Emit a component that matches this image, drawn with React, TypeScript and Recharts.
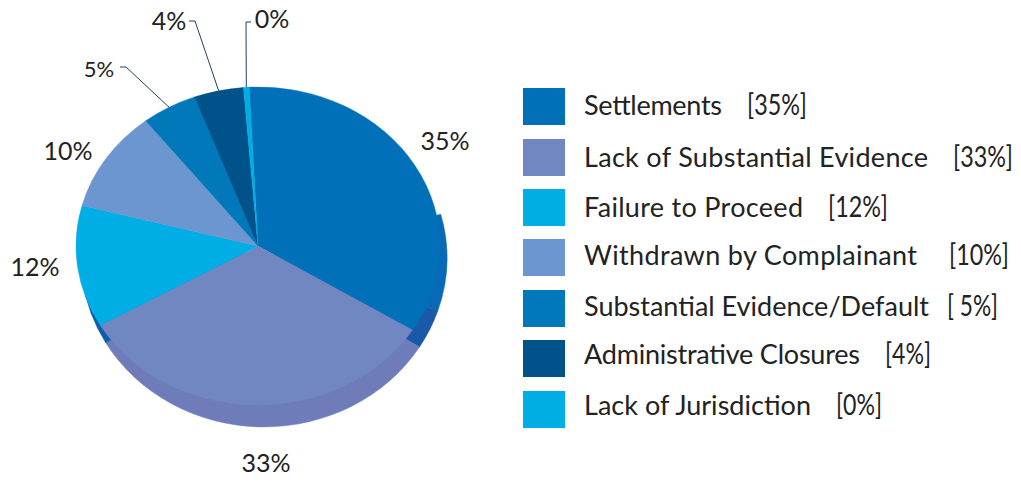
import { Legend, Pie, PieChart, Sector } from 'recharts'

const WIDTH = 1021
const HEIGHT = 487

const closureTypes = [
  'Settlements',
  'Lack of Substantial Evidence',
  'Failure to Proceed',
  'Withdrawn by Complainant',
  'Substantial Evidence/Default',
  'Administrative Closures',
  'Lack of Jurisdiction',
]
const closureShares = [34.6, 32.8, 12.4, 10.3, 4.9, 4.4, 0.49]
const closureColors = ['#0071b9', '#7087c2', '#00aee6', '#6c96cf', '#0078b9', '#00528b', '#00aee6']
const shareTags = ['[35%]', '[33%]', '[12%]', '[10%]', '[ 5%]', '[4%]', '[0%]']

// Visible rim of the disc, from the right side round the bottom to the left side.
// The Settlements slice shows in two shades here.
const rimShares = [9.2, 3.8, 32.8, 12.4]
const rimColors = ['#0a69b7', '#1a58aa', '#6f7cba', '#0a5ea8']

const FONT = 'Lato, "Open Sans", sans-serif'
const TOP_TILT = 0.874
const RIM_TILT = 0.923
const START_ANGLE = 92.8
const RIM_START_ANGLE = 15
const DEGREES_PER_SHARE = 3.6

// label centre, plus the elbow of the leader line where there is one
const labelSpots = [
  { x: 445, y: 141 },
  { x: 266, y: 463 },
  { x: 35, y: 267 },
  { x: 68, y: 151 },
  { x: 99, y: 68, elbowX: 126, elbowY: 67, endX: 120 },
  { x: 169, y: 21, elbowX: 195, elbowY: 21, endX: 189 },
  { x: 272, y: 19, elbowX: 246, elbowY: 22, endX: 251 },
]

// Legend rows, relative to the legend box
const swatchTops = [0, 51, 101, 151, 202, 252, 303]
const textBaselines = [27, 79, 129, 177, 228, 276, 327]
const nameWidths = [138, 344, 219, 333, 345, 276, 227]
const tagLefts = [224, 430, 305, 426, 424, 362, 313]
const tagWidths = [60, 60, 60, 60, 51, 46, 46]

const topData = closureTypes.map((name, i) => ({
  name,
  value: closureShares[i],
  fill: closureColors[i],
}))
const rimData = rimShares.map((value, i) => ({
  name: `rim-${i}`,
  value,
  fill: rimColors[i],
}))
const rimSpan = rimShares.reduce((sum, share) => sum + share, 0) * DEGREES_PER_SHARE

// Recharts sectors are circular, so squash each one about the pie centre
const tiltedSector = (tilt: number) => (props: any) => {
  const { cx, cy } = props
  return (
    <g transform={`translate(${cx} ${cy}) scale(1 ${tilt}) translate(${-cx} ${-cy})`}>
      <Sector {...props} stroke={props.fill} strokeWidth={0.5} />
    </g>
  )
}

function SliceLabel({ cx, cy, midAngle, outerRadius, index }: any) {
  const spot = labelSpots[index]
  const rad = (midAngle * Math.PI) / 180
  const rimX = cx + outerRadius * Math.cos(rad)
  const rimY = cy - outerRadius * TOP_TILT * Math.sin(rad)
  return (
    <g>
      {spot.elbowX !== undefined && (
        <polyline
          points={`${rimX},${rimY} ${spot.elbowX},${spot.elbowY} ${spot.endX},${spot.elbowY}`}
          fill="none"
          stroke="#1f4261"
          strokeWidth={1}
        />
      )}
      <text
        x={spot.x}
        y={spot.y + 9}
        textAnchor="middle"
        fontFamily={FONT}
        fontWeight={400}
        fontSize={index === 4 ? 22 : 25}
        fill="#222"
      >
        {Math.round(closureShares[index])}%
      </text>
    </g>
  )
}

function ClosureLegend({ payload }: any) {
  // the rim pie also reports legend entries, only the closure types get a row
  const rows = (payload ?? []).filter((entry: any) => closureTypes.includes(entry.value))
  return (
    <svg width={498} height={345} style={{ display: 'block' }}>
      {rows.map((entry: any, i: number) => (
        <g key={entry.value} fontFamily={FONT} fontWeight={400} fontSize={27} fill="#222">
          <rect x={0} y={swatchTops[i]} width={42} height={37} fill={entry.color} />
          <text x={61} y={textBaselines[i]} textLength={nameWidths[i]} lengthAdjust="spacing">
            {entry.value}
          </text>
          <text
            x={tagLefts[i]}
            y={textBaselines[i]}
            fontSize={28}
            textLength={tagWidths[i]}
            lengthAdjust="spacingAndGlyphs"
            xmlSpace="preserve"
          >
            {shareTags[i]}
          </text>
        </g>
      ))}
    </svg>
  )
}

export default function App() {
  return (
    <div style={{ position: 'absolute', left: 0, top: 0, width: WIDTH, height: HEIGHT, background: '#fff' }}>
      <PieChart width={WIDTH} height={HEIGHT} margin={{ top: 0, right: 0, bottom: 0, left: 0 }}>
        <Pie
          data={rimData}
          dataKey="value"
          cx={264}
          cy={258}
          outerRadius={183}
          startAngle={RIM_START_ANGLE}
          endAngle={RIM_START_ANGLE - rimSpan}
          shape={tiltedSector(RIM_TILT)}
          legendType="none"
          stroke="none"
          isAnimationActive={false}
        />
        <Pie
          data={topData}
          dataKey="value"
          nameKey="name"
          cx={258}
          cy={246}
          outerRadius={182}
          startAngle={START_ANGLE}
          endAngle={START_ANGLE - 360}
          shape={tiltedSector(TOP_TILT)}
          label={SliceLabel}
          labelLine={false}
          stroke="none"
          isAnimationActive={false}
        />
        <Legend
          content={ClosureLegend}
          itemSorter={null}
          wrapperStyle={{ left: 523, top: 88, width: 498, height: 345, bottom: 'auto' }}
        />
      </PieChart>
    </div>
  )
}
